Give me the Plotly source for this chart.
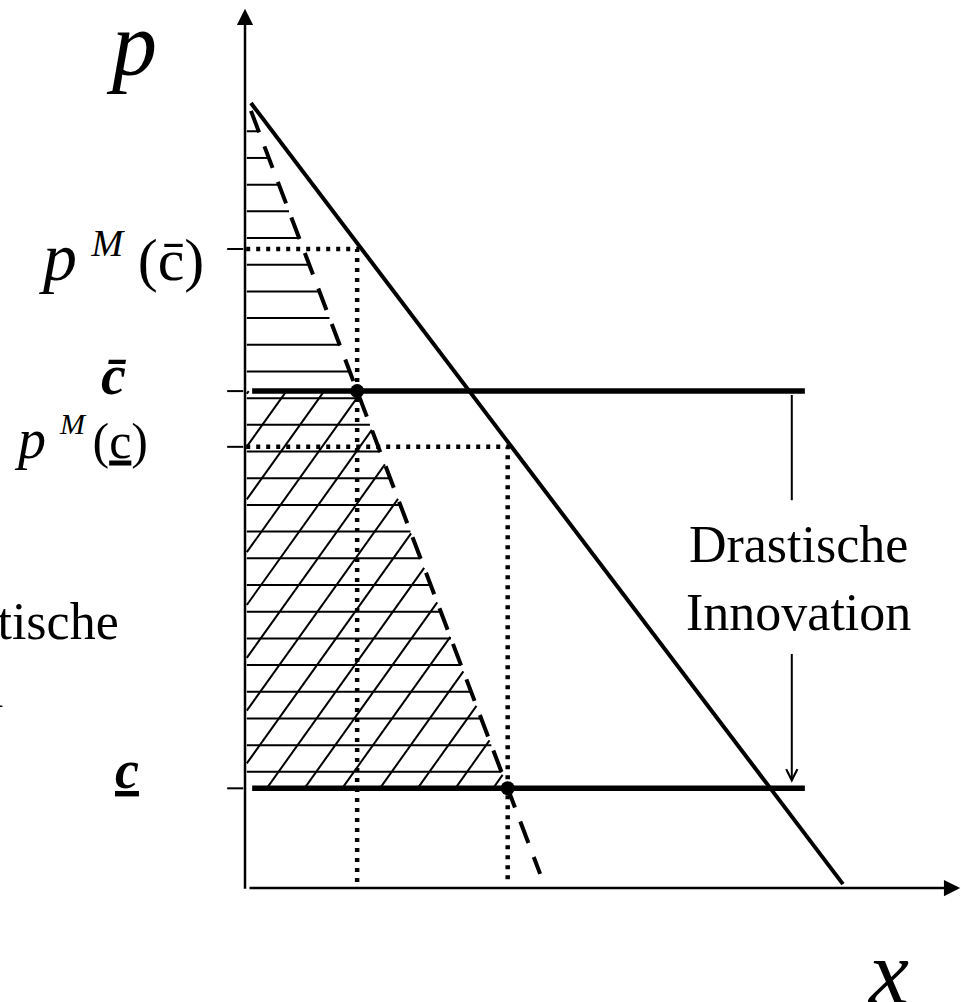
import numpy as np
import plotly.graph_objects as go

# ---------------- data ----------------
demand_intercept = 10.1      # a   in  p = a - b x
demand_slope = 1.0           # b
c_bar = 6.33                 # high marginal cost (c-bar)
c_low = 1.27                 # low marginal cost (c-underbar)
pM_bar = 8.14                # monopoly price at c-bar
pM_low = 5.62                # monopoly price at c-underbar
demand_x_span = [0.10, 10.05]
mr_x_span = [0.10, 4.96]
cost_x_span = [0.12, 9.41]
hatch_p_levels = list(np.arange(1.48, 9.70, 0.34))   # horizontal hatching levels
bracket_x = 9.19
tick_values = [pM_bar, c_bar, pM_low, c_low]

a, b = demand_intercept, demand_slope


def demand(x):
    return a - b * np.asarray(x, dtype=float)


def mr(x):
    return a - 2 * b * np.asarray(x, dtype=float)


def mr_inv(p):
    return (a - p) / (2 * b)


xM_bar = mr_inv(c_bar)
xM_low = mr_inv(c_low)

FONT = "Liberation Serif"
W, H = 961, 1002
# axis ranges chosen so that origin sits where the picture puts it
X_RANGE = [-4.118, 12.034]
Y_RANGE = [-1.452, 11.312]

fig = go.Figure()

# ---------------- hatching ----------------
hx, hy = [], []
x_left = 0.03
for p in hatch_p_levels:
    hx += [x_left, mr_inv(p), None]
    hy += [p, p, None]
m = 1.061      # slope of diagonal hatch lines (data units)
step = 0.634   # horizontal spacing of diagonal hatch lines
for k in range(-15, 15):
    x0 = 0.365 + step * k
    p_lo = max(c_low, c_low + m * (x_left - x0))
    p_hi = min(c_bar, (a / (2 * b) - x0 + c_low / m) / (1 / m + 1 / (2 * b)))
    if p_hi > p_lo + 1e-6:
        hx += [x0 + (p_lo - c_low) / m, x0 + (p_hi - c_low) / m, None]
        hy += [p_lo, p_hi, None]
fig.add_trace(go.Scatter(x=hx, y=hy, mode="lines",
                         line=dict(color="black", width=2), hoverinfo="skip"))

# ---------------- dotted monopoly price lines ----------------
for xm, pm in [(xM_bar, pM_bar), (xM_low, pM_low)]:
    fig.add_trace(go.Scatter(x=[0.02, xm, xm], y=[pm, pm, 0.05], mode="lines",
                             line=dict(color="black", width=4.5, dash="4px,6px"),
                             hoverinfo="skip"))

# ---------------- demand ----------------
dx = np.array(demand_x_span)
fig.add_trace(go.Scatter(x=dx, y=demand(dx), mode="lines",
                         line=dict(color="black", width=4), hoverinfo="skip"))

# ---------------- marginal revenue (dashed) ----------------
mx = np.array(mr_x_span)
fig.add_trace(go.Scatter(x=mx, y=mr(mx), mode="lines",
                         line=dict(color="black", width=4, dash="23px,15px"),
                         hoverinfo="skip"))

# ---------------- cost lines ----------------
for c in [c_bar, c_low]:
    fig.add_trace(go.Scatter(x=cost_x_span, y=[c, c], mode="lines",
                             line=dict(color="black", width=5.5), hoverinfo="skip"))

# ---------------- ticks on the p axis ----------------
tx, ty = [], []
for v in tick_values:
    tx += [-0.30, -0.03, None]
    ty += [v, v, None]
fig.add_trace(go.Scatter(x=tx, y=ty, mode="lines",
                         line=dict(color="black", width=2), hoverinfo="skip"))

# ---------------- bracket top segment ----------------
fig.add_trace(go.Scatter(x=[bracket_x, bracket_x], y=[c_bar - 0.05, 4.94], mode="lines",
                         line=dict(color="black", width=2), hoverinfo="skip"))

# ---------------- optimum points ----------------
fig.add_trace(go.Scatter(x=[xM_bar, xM_low], y=[c_bar, c_low], mode="markers",
                         marker=dict(color="black", size=14), hoverinfo="skip"))

# ---------------- axes as arrows ----------------
fig.add_annotation(x=0, y=11.2, ax=0, ay=-0.03, xref="x", yref="y", axref="x", ayref="y",
                   text="", showarrow=True, arrowhead=2, arrowsize=1.3, arrowwidth=2.5,
                   arrowcolor="black", standoff=0)
fig.add_annotation(x=12.02, y=0, ax=0.05, ay=0, xref="x", yref="y", axref="x", ayref="y",
                   text="", showarrow=True, arrowhead=2, arrowsize=1.3, arrowwidth=2.5,
                   arrowcolor="black", standoff=0)
# bracket arrow
fig.add_annotation(x=bracket_x, y=c_low + 0.07, ax=bracket_x, ay=3.0, xref="x", yref="y",
                   axref="x", ayref="y", text="", showarrow=True, arrowhead=5,
                   arrowsize=1.1, arrowwidth=2, arrowcolor="black", standoff=0)


def txt(text, x_px, y_px, size, xanchor="center", align="center"):
    fig.add_annotation(x=x_px / W, y=1 - y_px / H, xref="paper", yref="paper",
                       text=text, showarrow=False, xanchor=xanchor, yanchor="middle",
                       align=align, font=dict(family=FONT, size=size, color="black"))


def tick_label(text, x_px, value, shift, size, xanchor="center"):
    fig.add_annotation(x=x_px / W, y=value, xref="paper", yref="y", yshift=shift,
                       text=text, showarrow=False, xanchor=xanchor, yanchor="middle",
                       font=dict(family=FONT, size=size, color="black"))


# axis titles
txt("<i>p</i>", 131, 44, 90)
txt("<i>x</i>", 888, 972, 90)

# tick labels
tick_label("<span style='font-size:68px'><i>p</i></span> "
           "<sup><span style='font-size:38px'><i>M</i></span></sup> "
           "<span style='font-size:60px'>(c\u0304)</span>",
           206, pM_bar, -8, 58, xanchor="right")
tick_label("<b><i>c\u0304</i></b>", 113, c_bar, 16, 56)
tick_label("<span style='font-size:56px'><i>p</i></span> "
           "<sup><span style='font-size:30px'><i>M </i></span></sup>"
           "<span style='font-size:50px'>(<u>c</u>)</span>",
           150, pM_low, 8, 56, xanchor="right")
tick_label("<b><i><u>c</u></i></b>", 127, c_low, 18, 54)

# text blocks
txt("Drastische<br>Innovation", 798, 578, 52)
txt("Nicht-drastische<br>Innovation", 121, 655, 52, xanchor="right", align="left")

fig.update_layout(
    width=W, height=H,
    margin=dict(l=0, r=0, t=0, b=0),
    paper_bgcolor="white", plot_bgcolor="white",
    showlegend=False,
    xaxis=dict(range=X_RANGE, visible=False, fixedrange=True),
    yaxis=dict(range=Y_RANGE, visible=False, fixedrange=True),
)

fig.write_html("out.html",
               config={"displayModeBar": False},
               post_script="document.body.style.margin='0';"
                           "document.body.style.overflow='hidden';")
